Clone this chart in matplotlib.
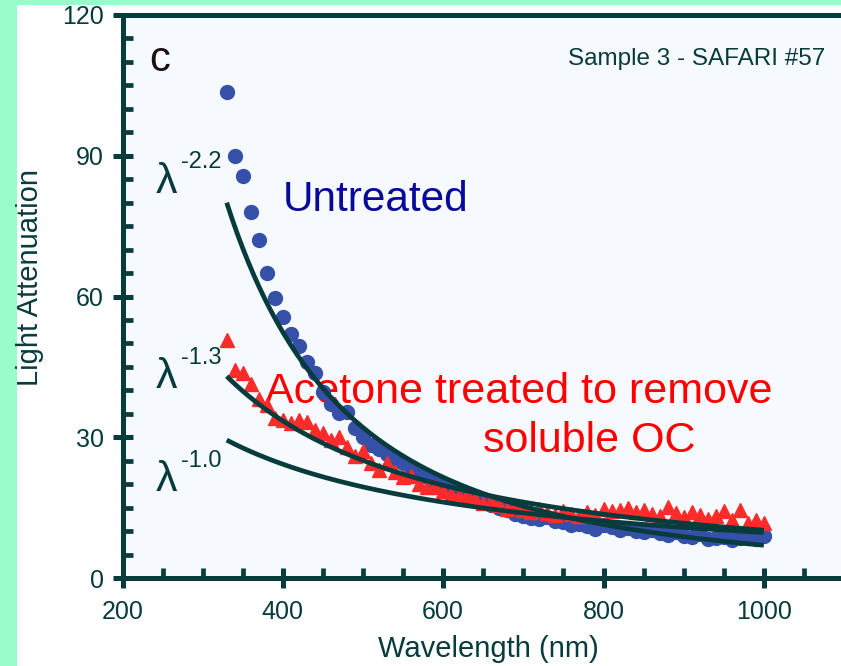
import numpy as np
import matplotlib
matplotlib.use("Agg")
import matplotlib.pyplot as plt
from matplotlib.patches import Rectangle
from matplotlib.ticker import MultipleLocator

plt.rcParams['font.family'] = ['Liberation Sans', 'DejaVu Sans']

# wavelengths (nm) of the measured points
wavelength = np.arange(330, 1001, 10)

untreated = [103.5, 90.0, 85.7, 78.1, 72.0, 65.0, 59.6, 55.7, 52.0, 49.4,
             46.0, 43.6, 39.7, 37.1, 35.1, 35.3, 32.0, 30.1, 28.3, 27.5,
             26.5, 25.3, 24.5, 23.6, 22.5, 21.5, 20.5, 19.8, 19.0, 18.3,
             17.5, 17.0, 16.3, 15.5, 15.0, 14.5, 13.6, 13.2, 12.8, 12.5,
             12.9, 12.2, 12.0, 11.3, 11.6, 11.0, 10.5, 11.2, 10.8, 10.2,
             10.6, 10.0, 9.8, 10.2, 9.5, 9.2, 9.8, 9.0, 8.8, 9.4,
             8.3, 8.6, 8.8, 8.2, 8.5, 8.6, 8.4, 8.9]

acetone = [50.7, 44.3, 43.6, 41.3, 38.1, 36.9, 34.0, 33.7, 33.1, 33.7,
           33.3, 31.5, 30.8, 29.5, 30.0, 28.0, 26.0, 27.0, 24.5, 23.0,
           24.5, 22.5, 21.5, 21.8, 20.0, 19.5, 19.3, 18.5, 18.0, 17.5,
           17.6, 16.8, 16.0, 16.5, 15.5, 14.8, 15.3, 14.5, 14.0, 14.8,
           13.8, 13.5, 14.2, 13.6, 13.2, 14.0, 13.5, 14.8, 14.2, 14.5,
           14.9, 14.0, 14.6, 13.6, 13.3, 15.2, 13.8, 13.0, 14.0, 13.5,
           12.5, 13.3, 14.3, 12.4, 14.5, 11.8, 12.3, 11.8]

# power law fits: value at 330 nm and exponent
fit_exponents = [-2.2, -1.3, -1.0]
fit_at_330 = [80.0, 43.0, 29.4]
fit_labels = ['-2.2', '-1.3', '-1.0']

dark = '#073b3c'

fig = plt.figure(figsize=(8.41, 6.66), dpi=100)
fig.patch.set_facecolor('#98fdca')
fig.patches.append(Rectangle((17 / 841, 0), 1, 661 / 666, transform=fig.transFigure,
                             facecolor='white', edgecolor='none', zorder=-5))

ax = fig.add_axes([122.5 / 841, 88 / 666, 721.5 / 841, 563 / 666])
ax.set_facecolor('#f6faff')
ax.set_xlim(200, 1100)
ax.set_ylim(0, 120)

ax.plot(wavelength, untreated, 'o', color='#3550a8', markersize=10, zorder=2)
ax.plot(wavelength, acetone, '^', color='#ff2b2b', markersize=10, zorder=2)

wl_fit = np.linspace(330, 1000, 200)
for a, p in zip(fit_at_330, fit_exponents):
    ax.plot(wl_fit, a * (wl_fit / 330.0) ** p, color=dark, lw=3.4, zorder=3,
            solid_capstyle='butt')

# lambda labels
lam_pos = [(241, 82.0, 273, 87.4), (241, 40.6, 273, 45.6), (241, 18.5, 273, 23.7)]
for (lx, ly, sx, sy), lab in zip(lam_pos, fit_labels):
    ax.text(lx, ly, 'λ', fontsize=31, color=dark, va='baseline', ha='left')
    ax.text(sx, sy, lab, fontsize=17, color=dark, va='baseline', ha='left')

ax.text(400, 78.2, 'Untreated', fontsize=30.5, color='#0a0a9a', va='baseline', zorder=1)
ax.text(378, 37.4, 'Acetone treated to remove', fontsize=31, color='#ff0000',
        va='baseline', zorder=1)
ax.text(650, 26.9, 'soluble OC', fontsize=31, color='#ff0000', va='baseline', zorder=1)
ax.text(1076, 109.3, 'Sample 3 - SAFARI #57', fontsize=17.5, color=dark,
        ha='right', va='baseline')
ax.text(233, 108, 'c', fontsize=30, color='#1a1010', va='baseline')

for side in ['left', 'bottom', 'top', 'right']:
    ax.spines[side].set_color(dark)
    ax.spines[side].set_linewidth(3.6)

ax.xaxis.set_major_locator(MultipleLocator(200))
ax.xaxis.set_minor_locator(MultipleLocator(50))
ax.yaxis.set_major_locator(MultipleLocator(30))
ax.yaxis.set_minor_locator(MultipleLocator(5))
ax.tick_params(which='major', direction='inout', length=15, width=3.6, color=dark,
               labelcolor=dark, labelsize=18)
ax.tick_params(which='minor', direction='in', length=7, width=3.4, color=dark)
ax.tick_params(axis='x', which='major', pad=8)
ax.tick_params(axis='y', which='major', pad=6)

fig.text(30 / 841, 389 / 666, 'Light Attenuation', rotation=90, fontsize=21,
         color=dark, ha='center', va='center')
fig.text(488.5 / 841, 9 / 666, 'Wavelength (nm)', fontsize=21, color=dark,
         ha='center', va='baseline')

fig.savefig('out.png', dpi=100, facecolor=fig.get_facecolor())
